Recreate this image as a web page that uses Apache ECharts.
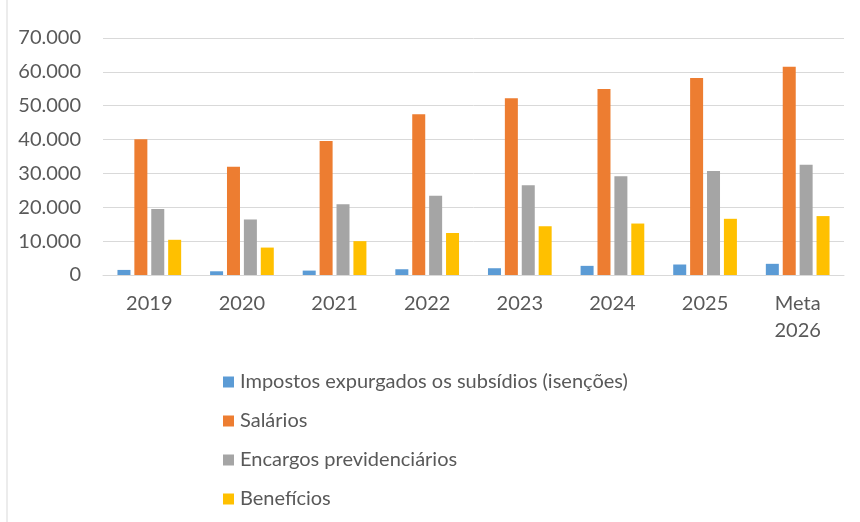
<!DOCTYPE html>
<html>
<head>
<meta charset="utf-8">
<script src="https://cdn.jsdelivr.net/npm/echarts@6/dist/echarts.min.js"></script>
<style>
  html, body { margin: 0; padding: 0; background: #fff; }
  #chart { width: 860px; height: 522px; }
</style>
</head>
<body>
<div id="chart"></div>
<script>
// categorias e valores
const anos = ['2019', '2020', '2021', '2022', '2023', '2024', '2025', 'Meta\n2026'];
const impostos = [1500, 1100, 1300, 1700, 2000, 2700, 3100, 3300];
const salarios = [40100, 32000, 39600, 47500, 52200, 54900, 58200, 61500];
const encargos = [19500, 16400, 20900, 23400, 26500, 29200, 30700, 32600];
const beneficios = [10400, 8100, 10000, 12400, 14400, 15200, 16600, 17400];
const nomes = ['Impostos expurgados os subsídios (isenções)', 'Salários', 'Encargos previdenciários', 'Benefícios'];
const cores = ['#5B9BD5', '#ED7D31', '#A5A5A5', '#FFC000'];

const fonte = 'Lato, "Open Sans", sans-serif';

function fmt(v) {
    return String(v).replace(/\B(?=(\d{3})+(?!\d))/g, '.');
}

const chart = echarts.init(document.getElementById('chart'));
const valores = [impostos, salarios, encargos, beneficios];

chart.setOption({
    animation: false,
    color: cores,
    graphic: [{
        type: 'rect',
        shape: { x: 7, y: -1, width: 860, height: 524 },
        style: { fill: 'none', stroke: '#d9d9d9', lineWidth: 1 },
        silent: true
    }],
    grid: { left: 103, right: 16, top: 38, bottom: 247 },
    legend: {
        orient: 'vertical',
        left: 218,
        top: 367,
        itemGap: 19,
        itemWidth: 11,
        itemHeight: 11,
        icon: 'rect',
        textStyle: { fontFamily: fonte, fontSize: 20, color: '#595959', padding: [0, 0, 0, 1] },
        data: nomes
    },
    xAxis: {
        type: 'category',
        data: anos,
        axisLine: { lineStyle: { color: '#d9d9d9', width: 1 } },
        axisTick: { show: false },
        axisLabel: { fontFamily: fonte, fontSize: 20, color: '#595959', margin: 15, lineHeight: 27 }
    },
    yAxis: {
        type: 'value',
        min: 0,
        max: 70000,
        interval: 10000,
        axisLine: { show: false },
        axisTick: { show: false },
        splitLine: { lineStyle: { color: '#d9d9d9', width: 1 } },
        axisLabel: { fontFamily: fonte, fontSize: 20, color: '#595959', margin: 22, formatter: fmt }
    },
    series: nomes.map((n, i) => ({
        name: n,
        type: 'bar',
        data: valores[i],
        barWidth: 13,
        barGap: '30%',
        barCategoryGap: '31%'
    }))
});
</script>
</body>
</html>
